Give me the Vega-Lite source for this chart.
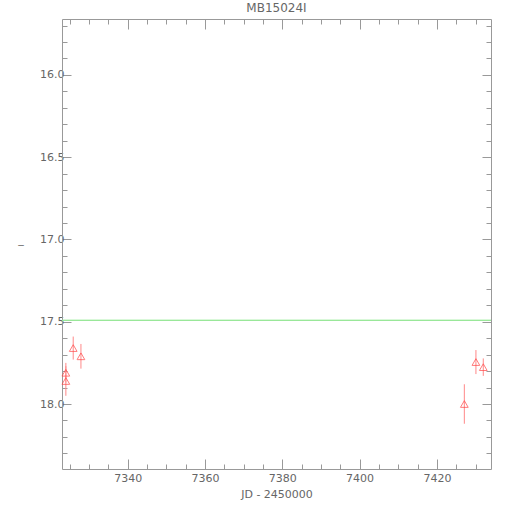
{
  "$schema": "https://vega.github.io/schema/vega-lite/v6.json",
  "width": 429,
  "height": 450,
  "autosize": "none",
  "padding": {"left": 62, "top": 19, "right": 19, "bottom": 41},
  "title": {"text": "MB15024I", "fontSize": 12, "color": "#666666", "font": "DejaVu Sans", "fontWeight": "normal", "offset": 4},
  "config": {
    "view": {"stroke": null},
    "axis": {"domainColor": "#999999", "tickColor": "#999999", "labelColor": "#666666", "titleColor": "#666666", "labelFont": "DejaVu Sans", "titleFont": "DejaVu Sans", "labelFontSize": 11, "titleFontSize": 11, "titleFontWeight": "normal", "grid": false}
  },
  "data": {"values": [
    {"jd": 7324.0, "mag": 17.81, "lo": 17.75, "hi": 17.87},
    {"jd": 7324.0, "mag": 17.86, "lo": 17.77, "hi": 17.95},
    {"jd": 7325.9, "mag": 17.66, "lo": 17.59, "hi": 17.73},
    {"jd": 7327.9, "mag": 17.71, "lo": 17.635, "hi": 17.785},
    {"jd": 7427.1, "mag": 18.0, "lo": 17.88, "hi": 18.12},
    {"jd": 7430.1, "mag": 17.745, "lo": 17.672, "hi": 17.818},
    {"jd": 7432.0, "mag": 17.776, "lo": 17.723, "hi": 17.829}
  ]},
  "resolve": {"axis": {"x": "independent", "y": "independent"}},
  "layer": [
    {
      "mark": {"type": "rule", "color": "#ff8888", "strokeWidth": 1},
      "encoding": {
        "x": {"field": "jd", "type": "quantitative",
          "scale": {"domain": [7323, 7434], "nice": false, "zero": false},
          "axis": {"orient": "bottom", "title": "JD - 2450000", "titlePadding": 5,
            "values": [7325,7330,7335,7340,7345,7350,7355,7360,7365,7370,7375,7380,7385,7390,7395,7400,7405,7410,7415,7420,7425,7430],
            "labelExpr": "datum.value % 20 === 0 ? datum.label : ''",
            "format": "d",
            "tickSize": {"condition": {"test": "datum.value % 20 === 0", "value": -10}, "value": -5},
            "labelPadding": 13}},
        "y": {"field": "lo", "type": "quantitative",
          "scale": {"domain": [15.66, 18.395], "nice": false, "zero": false, "reverse": true},
          "axis": {"orient": "left", "title": "_", "titleAngle": 0, "titlePadding": 19,
            "values": [15.7,15.8,15.9,16.0,16.1,16.2,16.3,16.4,16.5,16.6,16.7,16.8,16.9,17.0,17.1,17.2,17.3,17.4,17.5,17.6,17.7,17.8,17.9,18.0,18.1,18.2,18.3],
            "format": ".1f",
            "labelExpr": "abs(datum.value*2 - round(datum.value*2)) < 0.001 ? datum.label : ''",
            "tickSize": {"condition": {"test": "abs(datum.value*2 - round(datum.value*2)) < 0.001", "value": -9}, "value": -5},
            "labelPadding": 7}},
        "y2": {"field": "hi"}
      }
    },
    {
      "mark": {"type": "point", "shape": "triangle-up", "filled": false, "color": "#ff4444", "size": 60, "strokeWidth": 1},
      "encoding": {
        "x": {"field": "jd", "type": "quantitative",
          "scale": {"domain": [7323, 7434], "nice": false, "zero": false},
          "axis": {"orient": "top", "title": null, "labels": false,
            "values": [7325,7330,7335,7340,7345,7350,7355,7360,7365,7370,7375,7380,7385,7390,7395,7400,7405,7410,7415,7420,7425,7430],
            "tickSize": {"condition": {"test": "datum.value % 20 === 0", "value": -10}, "value": -5}}},
        "y": {"field": "mag", "type": "quantitative",
          "scale": {"domain": [15.66, 18.395], "nice": false, "zero": false, "reverse": true},
          "axis": {"orient": "right", "title": null, "labels": false,
            "values": [15.7,15.8,15.9,16.0,16.1,16.2,16.3,16.4,16.5,16.6,16.7,16.8,16.9,17.0,17.1,17.2,17.3,17.4,17.5,17.6,17.7,17.8,17.9,18.0,18.1,18.2,18.3],
            "tickSize": {"condition": {"test": "abs(datum.value*2 - round(datum.value*2)) < 0.001", "value": -9}, "value": -5}}}
      }
    },
    {
      "mark": {"type": "rule", "color": "#99e699", "strokeWidth": 0.8},
      "encoding": {
        "y": {"datum": 17.492, "type": "quantitative", "axis": null}
      }
    }
  ]
}
